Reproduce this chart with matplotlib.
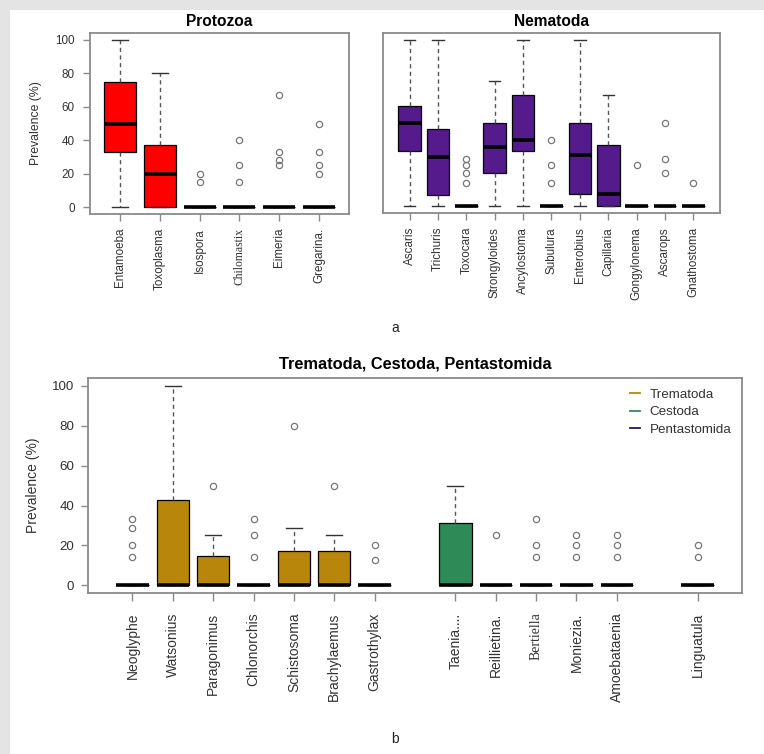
import matplotlib
matplotlib.use('Agg')
from matplotlib import pyplot as plt
from matplotlib.lines import Line2D
from matplotlib.patches import Rectangle

plt.rcParams['font.family'] = ['Liberation Sans', 'DejaVu Sans']

# Prevalence (%) summaries per genus: whisker low, Q1, median, Q3, whisker high, outliers
protozoa_names = ['Entamoeba', 'Toxoplasma', 'Isospora', 'Chilomastix', 'Eimeria', 'Gregarina.']
protozoa_lo = [0, 0, 0, 0, 0, 0]
protozoa_q1 = [33, 0, 0, 0, 0, 0]
protozoa_med = [50, 20, 0, 0, 0, 0]
protozoa_q3 = [75, 37, 0, 0, 0, 0]
protozoa_hi = [100, 80, 0, 0, 0, 0]
protozoa_out = [[], [], [15, 20], [15, 25, 40], [25, 28, 33, 67], [20, 25, 33, 50]]

nematoda_names = ['Ascaris', 'Trichuris', 'Toxocara', 'Strongyloides', 'Ancylostoma', 'Subulura',
                  'Enterobius', 'Capillaria', 'Gongylonema', 'Ascarops', 'Gnathostoma']
nematoda_lo = [0, 0, 0, 0, 0, 0, 0, 0, 0, 0, 0]
nematoda_q1 = [33, 7, 0, 20, 33, 0, 7.5, 0, 0, 0, 0]
nematoda_med = [50, 29.5, 0, 35.5, 40, 0, 31, 7.5, 0, 0, 0]
nematoda_q3 = [60, 46.5, 0, 50, 67, 0, 50, 37, 0, 0, 0]
nematoda_hi = [100, 100, 0, 75, 100, 0, 100, 67, 0, 0, 0]
nematoda_out = [[], [], [14.3, 20, 25, 28.6], [], [], [14.3, 25, 40], [], [], [25], [20, 28.6, 50], [14.3]]

# Trematoda, Cestoda, Pentastomida share one panel; gaps separate the groups
other_names = ['Neoglyphe', 'Watsonius', 'Paragonimus', 'Chlonorchis', 'Schistosoma', 'Brachylaemus',
               'Gastrothylax', 'Taenia....', 'Reillietina.', 'Bertiella', 'Moniezia.', 'Amoebataenia',
               'Linguatula']
other_group = ['Trematoda'] * 7 + ['Cestoda'] * 5 + ['Pentastomida']
other_at = [1, 2, 3, 4, 5, 6, 7, 9, 10, 11, 12, 13, 15]
other_lo = [0] * 13
other_q1 = [0] * 13
other_med = [0] * 13
other_q3 = [0, 42.7, 14.5, 0, 17.3, 17.3, 0, 31, 0, 0, 0, 0, 0]
other_hi = [0, 100, 25, 0, 28.6, 25, 0, 50, 0, 0, 0, 0, 0]
other_out = [[14.3, 20, 28.6, 33.3], [], [50], [14.3, 25, 33.3], [80], [50], [12.5, 20],
             [], [25], [14.3, 20, 33.3], [14.3, 20, 25], [14.3, 20, 25], [14.3, 20]]

group_colours = {'Protozoa': '#ff0000', 'Nematoda': '#551a8b', 'Trematoda': '#b8860b',
                 'Cestoda': '#2e8b57', 'Pentastomida': '#191970'}
serif_labels = ['Chilomastix', 'Bertiella']

spine_col = '#8a8a8a'
text_col = '#333333'


def make_stats(names, lo, q1, med, q3, hi, out):
    stats = []
    for i in range(len(names)):
        stats.append(dict(label=names[i], whislo=lo[i], q1=q1[i], med=med[i],
                          q3=q3[i], whishi=hi[i], fliers=out[i]))
    return stats


def draw_boxes(ax, stats, positions, colours, fontsize):
    parts = ax.bxp(stats, positions=positions, widths=0.8, patch_artist=True,
                   showfliers=True, manage_ticks=False,
                   boxprops=dict(edgecolor='black', linewidth=0.9),
                   medianprops=dict(color='black', linewidth=2.6, solid_capstyle='butt'),
                   whiskerprops=dict(color='#555555', linewidth=1.0, linestyle=(0, (3, 2.5))),
                   capprops=dict(color='#333333', linewidth=1.0),
                   flierprops=dict(marker='o', markerfacecolor='none', markeredgecolor='#777777',
                                   markersize=4.5, markeredgewidth=0.9, linestyle='none'),
                   capwidths=0.4)
    for box, col in zip(parts['boxes'], colours):
        box.set_facecolor(col)
    ax.set_xticks(positions)
    ax.set_xticklabels([s['label'] for s in stats], rotation=90, fontsize=fontsize, color=text_col)
    for lbl in ax.get_xticklabels():
        if lbl.get_text() in serif_labels:
            lbl.set_fontfamily('Liberation Serif')
    for sp in ax.spines.values():
        sp.set_color(spine_col)
        sp.set_linewidth(1.3)
    ax.tick_params(colors=spine_col, length=5, width=1.0, labelcolor=text_col)


fig = plt.figure(figsize=(7.64, 7.54), dpi=100)
fig.patches.append(Rectangle((0, 0.9867), 1, 0.0133, transform=fig.transFigure,
                             facecolor='#e4e4e4', edgecolor='none', zorder=-1))
fig.patches.append(Rectangle((0, 0), 0.0131, 1, transform=fig.transFigure,
                             facecolor='#e4e4e4', edgecolor='none', zorder=-1))

# Protozoa
ax1 = fig.add_axes([0.1178, 0.7162, 0.339, 0.240])
draw_boxes(ax1, make_stats(protozoa_names, protozoa_lo, protozoa_q1, protozoa_med,
                           protozoa_q3, protozoa_hi, protozoa_out),
           list(range(1, len(protozoa_names) + 1)),
           [group_colours['Protozoa']] * len(protozoa_names), 8.4)
ax1.set_xlim(0.26, len(protozoa_names) + 0.74)
ax1.set_ylim(-4, 104)
ax1.set_yticks([0, 20, 40, 60, 80, 100])
ax1.tick_params(axis='y', labelsize=8.4, pad=6)
ax1.tick_params(axis='x', pad=5)
ax1.set_ylabel('Prevalence (%)', fontsize=8.8, color=text_col)
ax1.yaxis.set_label_coords(-0.185, 0.5)
ax1.set_title('Protozoa', fontsize=11.2, fontweight='bold', pad=5)

# Nematoda
ax2 = fig.add_axes([0.5013, 0.7175, 0.4411, 0.2387])
draw_boxes(ax2, make_stats(nematoda_names, nematoda_lo, nematoda_q1, nematoda_med,
                           nematoda_q3, nematoda_hi, nematoda_out),
           list(range(1, len(nematoda_names) + 1)),
           [group_colours['Nematoda']] * len(nematoda_names), 8.4)
ax2.set_xlim(0.06, len(nematoda_names) + 0.94)
ax2.set_ylim(-4, 104)
ax2.set_yticks([])
ax2.tick_params(axis='x', pad=5)
ax2.set_title('Nematoda', fontsize=11.2, fontweight='bold', pad=5)

# Trematoda, Cestoda, Pentastomida
ax3 = fig.add_axes([0.1152, 0.2135, 0.856, 0.2851])
draw_boxes(ax3, make_stats(other_names, other_lo, other_q1, other_med,
                           other_q3, other_hi, other_out),
           other_at, [group_colours[g] for g in other_group], 10)
ax3.set_xlim(-0.1, 16.1)
ax3.set_ylim(-3.8, 103.8)
ax3.set_yticks([0, 20, 40, 60, 80, 100])
ax3.tick_params(axis='y', labelsize=9.6, pad=5)
ax3.tick_params(axis='x', pad=8, length=6)
ax3.set_ylabel('Prevalence (%)', fontsize=10, color=text_col)
ax3.yaxis.set_label_coords(-0.073, 0.5)
ax3.set_title('Trematoda, Cestoda, Pentastomida', fontsize=11.8, fontweight='bold', pad=7)

handles = [Line2D([], [], color=group_colours[g], linewidth=1.3)
           for g in ['Trematoda', 'Cestoda', 'Pentastomida']]
ax3.legend(handles, ['Trematoda', 'Cestoda', 'Pentastomida'], loc='upper right',
           frameon=False, fontsize=9.6, handlelength=0.8, handletextpad=0.7,
           labelspacing=0.38, borderaxespad=0.4, labelcolor=text_col)

fig.text(0.517, 0.565, 'a', fontsize=10, ha='center', va='center', color='#222222')
fig.text(0.517, 0.020, 'b', fontsize=10, ha='center', va='center', color='#222222')

plt.savefig('out.png', dpi=100)
